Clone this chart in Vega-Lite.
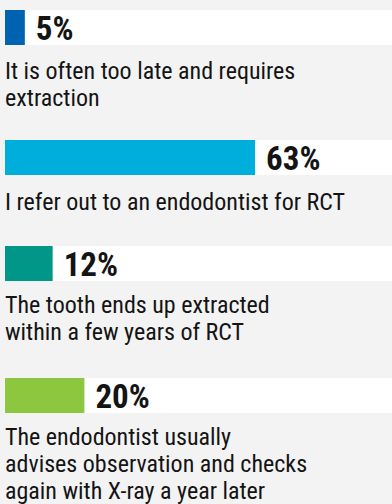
{
  "$schema": "https://vega.github.io/schema/vega-lite/v6.json",
  "background": "#f3f3f3",
  "padding": {"left": 5, "top": 10, "right": 0, "bottom": 0},
  "spacing": 0,
  "config": {
    "view": {"stroke": null},
    "concat": {"spacing": 0},
    "text": {"font": "Roboto Condensed, Liberation Sans Narrow, Arial Narrow, sans-serif", "color": "#141414"}
  },
  "datasets": {
    "answers": [
      {"q": 1, "pct": 5, "label": "5%", "color": "#0063b2"},
      {"q": 2, "pct": 63, "label": "63%", "color": "#00aedb"},
      {"q": 3, "pct": 12, "label": "12%", "color": "#009688"},
      {"q": 4, "pct": 20, "label": "20%", "color": "#8dc63f"}
    ],
    "lines": [
      {"q": 1, "line": 1, "text": "It is often too late and requires"},
      {"q": 1, "line": 2, "text": "extraction"},
      {"q": 2, "line": 1, "text": "I refer out to an endodontist for RCT"},
      {"q": 3, "line": 1, "text": "The tooth ends up extracted"},
      {"q": 3, "line": 2, "text": "within a few years of RCT"},
      {"q": 4, "line": 1, "text": "The endodontist usually"},
      {"q": 4, "line": 2, "text": "advises observation and checks"},
      {"q": 4, "line": 3, "text": "again with X-ray a year later"}
    ]
  },
  "vconcat": [
    {
      "width": 387, "height": 35,
      "view": {"fill": "white", "stroke": null},
      "data": {"name": "answers"},
      "transform": [{"filter": "datum.q === 1"}],
      "encoding": {
        "x": {"field": "pct", "type": "quantitative", "scale": {"domain": [0, 97.5]}, "axis": null},
        "y": {"field": "q", "type": "nominal", "axis": null, "scale": {"paddingInner": 0, "paddingOuter": 0}}
      },
      "layer": [
        {"mark": {"type": "bar"}, "encoding": {"color": {"field": "color", "type": "nominal", "scale": null}}},
        {"mark": {"type": "text", "align": "left", "baseline": "alphabetic", "dx": 11, "dy": 12, "fontSize": 33, "fontWeight": "bold"}, "encoding": {"text": {"field": "label"}}}
      ]
    },
    {
      "width": 387, "height": 93,
      "data": {"name": "lines"},
      "transform": [{"filter": "datum.q === 1"}],
      "mark": {"type": "text", "align": "left", "baseline": "alphabetic", "fontSize": 24},
      "encoding": {
        "x": {"datum": 0, "type": "quantitative", "scale": {"domain": [0, 97.5]}, "axis": null},
        "y": {"field": "line", "type": "ordinal", "axis": null, "scale": {"type": "band", "paddingInner": 0, "paddingOuter": 0.722, "align": 0.47}},
        "text": {"field": "text"}
      }
    },
    {
      "width": 387, "height": 35,
      "view": {"fill": "white", "stroke": null},
      "data": {"name": "answers"},
      "transform": [{"filter": "datum.q === 2"}],
      "encoding": {
        "x": {"field": "pct", "type": "quantitative", "scale": {"domain": [0, 97.5]}, "axis": null},
        "y": {"field": "q", "type": "nominal", "axis": null, "scale": {"paddingInner": 0, "paddingOuter": 0}}
      },
      "layer": [
        {"mark": {"type": "bar"}, "encoding": {"color": {"field": "color", "type": "nominal", "scale": null}}},
        {"mark": {"type": "text", "align": "left", "baseline": "alphabetic", "dx": 11, "dy": 12, "fontSize": 33, "fontWeight": "bold"}, "encoding": {"text": {"field": "label"}}}
      ]
    },
    {
      "width": 387, "height": 69,
      "data": {"name": "lines"},
      "transform": [{"filter": "datum.q === 2"}],
      "mark": {"type": "text", "align": "left", "baseline": "alphabetic", "fontSize": 24},
      "encoding": {
        "x": {"datum": 0, "type": "quantitative", "scale": {"domain": [0, 97.5]}, "axis": null},
        "y": {"field": "line", "type": "ordinal", "axis": null, "scale": {"type": "band", "paddingInner": 0, "paddingOuter": 0.778, "align": 0.464}},
        "text": {"field": "text"}
      }
    },
    {
      "width": 387, "height": 35,
      "view": {"fill": "white", "stroke": null},
      "data": {"name": "answers"},
      "transform": [{"filter": "datum.q === 3"}],
      "encoding": {
        "x": {"field": "pct", "type": "quantitative", "scale": {"domain": [0, 97.5]}, "axis": null},
        "y": {"field": "q", "type": "nominal", "axis": null, "scale": {"paddingInner": 0, "paddingOuter": 0}}
      },
      "layer": [
        {"mark": {"type": "bar"}, "encoding": {"color": {"field": "color", "type": "nominal", "scale": null}}},
        {"mark": {"type": "text", "align": "left", "baseline": "alphabetic", "dx": 11, "dy": 12, "fontSize": 33, "fontWeight": "bold"}, "encoding": {"text": {"field": "label"}}}
      ]
    },
    {
      "width": 387, "height": 95,
      "data": {"name": "lines"},
      "transform": [{"filter": "datum.q === 3"}],
      "mark": {"type": "text", "align": "left", "baseline": "alphabetic", "fontSize": 24},
      "encoding": {
        "x": {"datum": 0, "type": "quantitative", "scale": {"domain": [0, 97.5]}, "axis": null},
        "y": {"field": "line", "type": "ordinal", "axis": null, "scale": {"type": "band", "paddingInner": 0, "paddingOuter": 0.759, "align": 0.393}},
        "text": {"field": "text"}
      }
    },
    {
      "width": 387, "height": 35,
      "view": {"fill": "white", "stroke": null},
      "data": {"name": "answers"},
      "transform": [{"filter": "datum.q === 4"}],
      "encoding": {
        "x": {"field": "pct", "type": "quantitative", "scale": {"domain": [0, 97.5]}, "axis": null},
        "y": {"field": "q", "type": "nominal", "axis": null, "scale": {"paddingInner": 0, "paddingOuter": 0}}
      },
      "layer": [
        {"mark": {"type": "bar"}, "encoding": {"color": {"field": "color", "type": "nominal", "scale": null}}},
        {"mark": {"type": "text", "align": "left", "baseline": "alphabetic", "dx": 11, "dy": 12, "fontSize": 33, "fontWeight": "bold"}, "encoding": {"text": {"field": "label"}}}
      ]
    },
    {
      "width": 387, "height": 124,
      "data": {"name": "lines"},
      "transform": [{"filter": "datum.q === 4"}],
      "mark": {"type": "text", "align": "left", "baseline": "alphabetic", "fontSize": 24},
      "encoding": {
        "x": {"datum": 0, "type": "quantitative", "scale": {"domain": [0, 97.5]}, "axis": null},
        "y": {"field": "line", "type": "ordinal", "axis": null, "scale": {"type": "band", "paddingInner": 0, "paddingOuter": 0.796, "align": 0.374}},
        "text": {"field": "text"}
      }
    }
  ]
}
